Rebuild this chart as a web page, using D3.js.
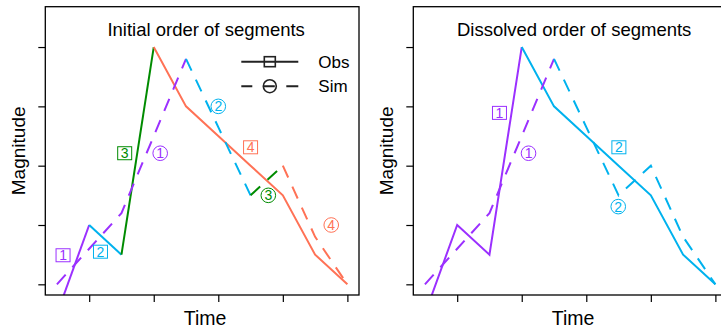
<!DOCTYPE html>
<html>
<head>
<meta charset="utf-8">
<script src="https://cdn.jsdelivr.net/npm/d3@7"></script>
<style>
  body { margin: 0; background: #fff; }
  svg { font-family: "Liberation Sans", Arial, sans-serif; }
</style>
</head>
<body>
<svg id="chart" width="721" height="332"></svg>
<script>
// time steps and the two series
const time = [1, 2, 3, 4, 5, 6, 7, 8, 9, 10]
const obs = [-0.5, 1, 0.5, 4, 3, 2.5, 2, 1.5, 0.5, 0]
const sim = [0, 0.6, 1.2, 2.5, 3.8, 2.65, 1.5, 2.0, 0.8, 0]
const xTicks = [2, 4, 6, 8, 10]
const yTicks = [0, 1, 2, 3, 4]

// segments as [from, to] time steps
const initialObsSegs = [[1, 2], [2, 3], [3, 4], [4, 10]]
const initialSimSegs = [[1, 5], [5, 7], [7, 8], [8, 10]]
const dissolvedObsSegs = [[1, 4], [4, 10]]
const dissolvedSimSegs = [[1, 5], [5, 10]]

// label anchors [time, magnitude]
const initialObsLabels = [[1.19, 0.49], [2.35, 0.55], [3.1, 2.21], [7.0, 2.31]]
const initialSimLabels = [[4.2, 2.21], [6.0, 3.0], [7.55, 1.5], [9.5, 1.0]]
const dissolvedObsLabels = [[3.31, 2.89], [7.01, 2.31]]
const dissolvedSimLabels = [[4.21, 2.21], [6.99, 1.31]]

const colors = ['#9B30FF', '#00B2EE', '#008B00', '#FF7256']

const svg = d3.select('#chart')
const plotW = 313.7, plotH = 288.3, plotTop = 6.7

const x = d3.scaleLinear().domain([0.64, 10.36]).range([0, plotW])
const y = d3.scaleLinear().domain([-0.18, 4.68]).range([plotH, 0])

function panel(left, idx, title, obsSegs, simSegs, obsLabels, simLabels) {
  const g = svg.append('g').attr('transform', `translate(${left},${plotTop})`)

  g.append('clipPath').attr('id', 'clip' + idx)
    .append('rect').attr('width', plotW).attr('height', plotH)

  const xAxis = g.append('g').attr('transform', `translate(0,${plotH})`)
    .call(d3.axisBottom(x).tickValues(xTicks).tickSize(7).tickFormat(''))
  const yAxis = g.append('g')
    .call(d3.axisLeft(y).tickValues(yTicks).tickSize(7).tickFormat(''))
  ;[xAxis, yAxis].forEach(a => {
    a.select('.domain').remove()
    a.selectAll('line').attr('stroke', '#000').attr('stroke-width', 1.2)
  })

  const line = d3.line().x(d => x(d[0])).y(d => y(d[1]))
  const lines = g.append('g').attr('clip-path', `url(#clip${idx})`)

  function drawSegs(segs, series, dashed) {
    segs.forEach((s, i) => {
      const pts = time.map((t, k) => [t, series[k]]).filter(p => p[0] >= s[0] && p[0] <= s[1])
      lines.append('path')
        .attr('d', line(pts))
        .attr('fill', 'none')
        .attr('stroke', colors[i])
        .attr('stroke-width', 2)
        .attr('stroke-dasharray', dashed ? '13,10' : null)
    })
  }
  drawSegs(obsSegs, obs, false)
  drawSegs(simSegs, sim, true)

  // boxed numbers for obs segments
  obsLabels.forEach((p, i) => {
    const lg = g.append('g').attr('transform', `translate(${x(p[0])},${y(p[1])})`)
    lg.append('rect').attr('x', -7).attr('y', -6.5).attr('width', 14).attr('height', 13)
      .attr('fill', '#fff').attr('stroke', colors[i]).attr('stroke-width', 1)
    lg.append('text').text(i + 1).attr('y', 5).attr('text-anchor', 'middle')
      .attr('font-size', '14px').attr('fill', colors[i])
  })
  // circled numbers for sim segments
  simLabels.forEach((p, i) => {
    const lg = g.append('g').attr('transform', `translate(${x(p[0])},${y(p[1])})`)
    lg.append('circle').attr('r', 7.3)
      .attr('fill', '#fff').attr('stroke', colors[i]).attr('stroke-width', 1)
    lg.append('text').text(i + 1).attr('y', 5).attr('text-anchor', 'middle')
      .attr('font-size', '14px').attr('fill', colors[i])
  })

  g.append('rect').attr('width', plotW).attr('height', plotH)
    .attr('fill', 'none').attr('stroke', '#000').attr('stroke-width', 1.3)

  g.append('text').text(title)
    .attr('x', plotW / 2 + 4).attr('y', 29)
    .attr('text-anchor', 'middle').attr('font-size', '18.5px')
  g.append('text').text('Time')
    .attr('x', plotW / 2 + 3).attr('y', 318)
    .attr('text-anchor', 'middle').attr('font-size', '19.5px')
  g.append('text').text('Magnitude')
    .attr('transform', `translate(-20,${plotH / 2}) rotate(-90)`)
    .attr('text-anchor', 'middle').attr('font-size', '19px')
  return g
}

const g1 = panel(45.3, 1, 'Initial order of segments',
  initialObsSegs, initialSimSegs, initialObsLabels, initialSimLabels)
panel(413.3, 2, 'Dissolved order of segments',
  dissolvedObsSegs, dissolvedSimSegs, dissolvedObsLabels, dissolvedSimLabels)

// legend in the first panel
const legend = g1.append('g').attr('transform', 'translate(196,55)')
legend.append('line').attr('x1', 0).attr('x2', 57).attr('y1', 0).attr('y2', 0)
  .attr('stroke', '#222').attr('stroke-width', 2)
legend.append('rect').attr('x', 23) .attr('y', -5).attr('width', 11).attr('height', 10)
  .attr('fill', 'none').attr('stroke', '#222').attr('stroke-width', 1.6)
legend.append('line').attr('x1', 0).attr('x2', 57).attr('y1', 24.5).attr('y2', 24.5)
  .attr('stroke', '#222').attr('stroke-width', 2).attr('stroke-dasharray', '11,11.5,11,11.5,12')
legend.append('circle').attr('cx', 28.5).attr('cy', 24.5).attr('r', 6.5)
  .attr('fill', 'none').attr('stroke', '#222').attr('stroke-width', 1.6)
legend.append('text').text('Obs').attr('x', 77).attr('y', 6).attr('font-size', '17px')
legend.append('text').text('Sim').attr('x', 77).attr('y', 30.5).attr('font-size', '17px')
</script>
</body>
</html>
